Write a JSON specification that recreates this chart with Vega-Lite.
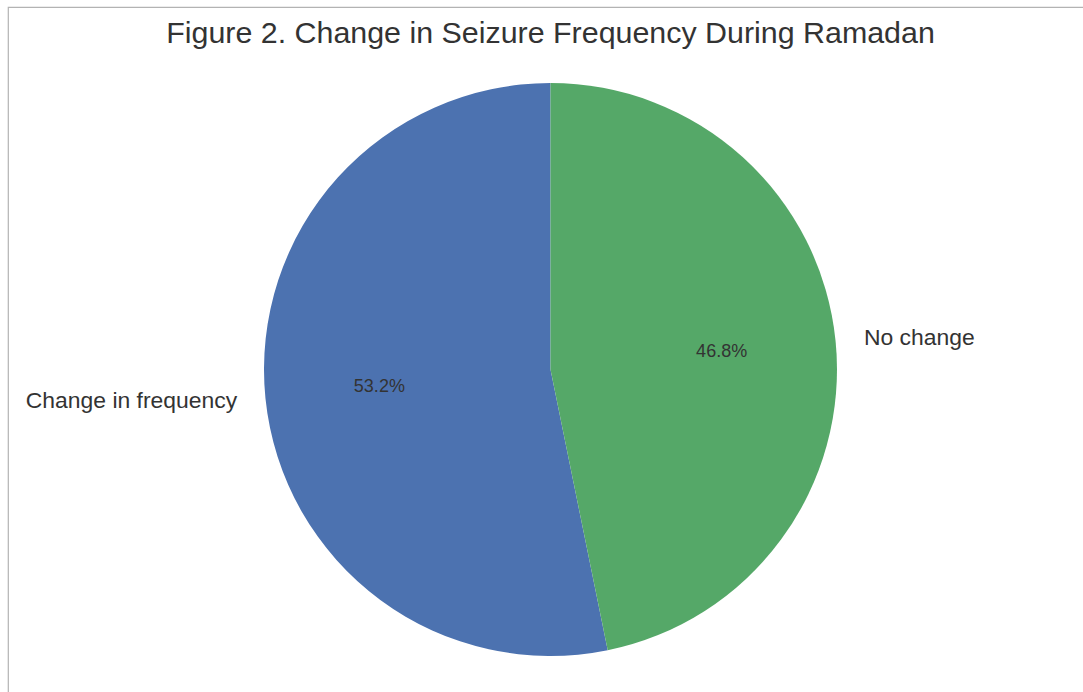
{
  "$schema": "https://vega.github.io/schema/vega-lite/v6.json",
  "width": 1085,
  "height": 725,
  "autosize": {"type": "none"},
  "padding": {"left": 8, "top": 7, "right": 0, "bottom": 0},
  "background": "white",
  "view": {"stroke": "#b3b3b3", "strokeWidth": 1.2, "fill": "white"},
  "title": {
    "text": "Figure 2. Change in Seizure Frequency During Ramadan",
    "font": "Liberation Sans",
    "fontSize": 30.4,
    "fontWeight": "normal",
    "color": "#333333",
    "anchor": "middle",
    "baseline": "alphabetic",
    "offset": -37,
    "dy": 29.5
  },
  "data": {
    "values": [
      {"label": "Change in frequency", "value": 0.532},
      {"label": "No change", "value": 0.468}
    ]
  },
  "encoding": {
    "theta": {"field": "value", "type": "quantitative", "stack": true},
    "order": {"field": "label", "sort": "descending"}
  },
  "layer": [
    {
      "mark": {"type": "arc", "outerRadius": 286.5},
      "encoding": {
        "color": {
          "field": "label",
          "type": "nominal",
          "scale": {"domain": ["Change in frequency", "No change"], "range": ["#4c72b0", "#55a868"]},
          "legend": null
        }
      }
    },
    {
      "mark": {"type": "text", "radius": 172, "fontSize": 18, "font": "Liberation Sans", "color": "#333333", "align": "center", "baseline": "middle"},
      "encoding": {
        "text": {"field": "value", "type": "quantitative", "format": ".1%"}
      }
    },
    {
      "mark": {"type": "text", "radius": 315, "fontSize": 22.9, "font": "Liberation Sans", "color": "#333333", "baseline": "middle",
        "align": {"expr": "datum.label == 'No change' ? 'left' : 'right'"}},
      "encoding": {
        "text": {"field": "label", "type": "nominal"}
      }
    }
  ]
}
